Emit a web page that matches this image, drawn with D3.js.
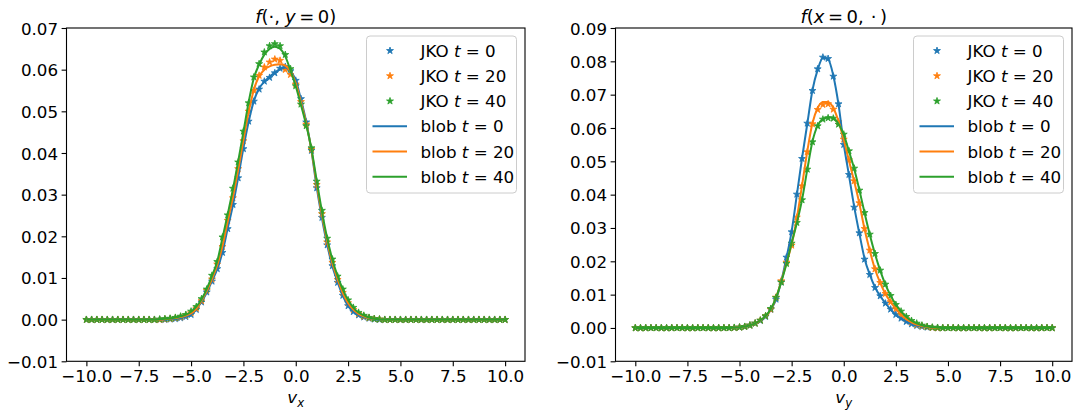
<!DOCTYPE html>
<html>
<head>
<meta charset="utf-8">
<script src="https://cdn.jsdelivr.net/npm/d3@7"></script>
<style>
  body { margin: 0; background: #fff; }
  svg { display: block; }
  text { font-family: "DejaVu Sans", sans-serif; fill: #000; }
</style>
</head>
<body>
<svg id="fig" width="1079" height="414"></svg>
<script>
// Velocity grid shared by every profile (-10 .. 10, step 0.25)
const vGrid = d3.range(-10, 10.0001, 0.25);

// ---- Slice f(., y = 0) ----
const jkoX0 = [0,0,0,0,0,0,0,0,0,0,0,0,0,0,0,0,
  0.0001,0.0002,0.0004,0.0007,0.0012,0.0024,0.0042,0.0066,0.0092,0.0122,0.0161,0.0218,0.0276,0.0340,
  0.0410,0.0476,0.0524,0.0553,0.0572,0.0581,0.0592,0.0603,0.0607,0.0597,0.0574,0.0530,0.0474,0.0406,
  0.0316,0.0245,0.0179,0.0129,0.0089,0.0058,0.0033,0.0019,0.0011,0.0006,0.0003,0.0001,
  0,0,0,0,0,0,0,0,0,0,0,0,0,0,0,0,0,0,0,0,0,0,0,0,0];
const jkoX20 = [0,0,0,0,0,0,0,0,0,0,0,0,0,0,0,
  0.0001,0.0002,0.0004,0.0006,0.0010,0.0016,0.0027,0.0045,0.0070,0.0097,0.0133,0.0175,0.0238,0.0292,
  0.0362,0.0429,0.0500,0.0550,0.0586,0.0606,0.0618,0.0625,0.0622,0.0600,0.0588,0.0565,0.0523,0.0469,
  0.0409,0.0324,0.0254,0.0186,0.0137,0.0096,0.0065,0.0040,0.0024,0.0014,0.0008,0.0004,0.0002,0.0001,
  0,0,0,0,0,0,0,0,0,0,0,0,0,0,0,0,0,0,0,0,0,0,0,0];
const jkoX40 = [0,0,0,0,0,0,0,0,0,0,0,0,0,0,
  0.0001,0.0002,0.0003,0.0005,0.0008,0.0012,0.0020,0.0031,0.0050,0.0073,0.0106,0.0139,0.0198,0.0251,
  0.0315,0.0378,0.0452,0.0520,0.0582,0.0614,0.0642,0.0657,0.0662,0.0657,0.0636,0.0602,0.0561,0.0517,
  0.0465,0.0412,0.0332,0.0262,0.0195,0.0145,0.0104,0.0073,0.0047,0.0029,0.0017,0.0010,0.0005,0.0002,
  0.0001,
  0,0,0,0,0,0,0,0,0,0,0,0,0,0,0,0,0,0,0,0,0,0,0,0];
const blobX0 = [0,0,0,0,0,0,0,0,0,0,0,0,0,0,0,0,
  0.0001,0.0002,0.0004,0.0007,0.0012,0.0025,0.0043,0.0065,0.0093,0.0121,0.0162,0.0219,0.0275,0.0341,
  0.0412,0.0475,0.0525,0.0555,0.0571,0.0583,0.0593,0.0601,0.0605,0.0596,0.0575,0.0528,0.0475,0.0405,
  0.0318,0.0244,0.0180,0.0128,0.0090,0.0057,0.0033,0.0019,0.0011,0.0006,0.0003,0.0001,
  0,0,0,0,0,0,0,0,0,0,0,0,0,0,0,0,0,0,0,0,0,0,0,0,0];
const blobX20 = [0,0,0,0,0,0,0,0,0,0,0,0,0,0,0,
  0.0001,0.0002,0.0004,0.0006,0.0010,0.0015,0.0026,0.0046,0.0069,0.0098,0.0131,0.0177,0.0236,0.0294,
  0.0360,0.0431,0.0498,0.0552,0.0584,0.0600,0.0608,0.0612,0.0613,0.0610,0.0596,0.0567,0.0521,0.0471,
  0.0407,0.0326,0.0252,0.0188,0.0136,0.0097,0.0064,0.0040,0.0024,0.0014,0.0008,0.0004,0.0002,0.0001,
  0,0,0,0,0,0,0,0,0,0,0,0,0,0,0,0,0,0,0,0,0,0,0,0];
const blobX40 = [0,0,0,0,0,0,0,0,0,0,0,0,0,0,
  0.0001,0.0002,0.0003,0.0005,0.0008,0.0012,0.0019,0.0031,0.0049,0.0074,0.0105,0.0140,0.0196,0.0253,
  0.0313,0.0380,0.0450,0.0522,0.0580,0.0612,0.0636,0.0650,0.0655,0.0650,0.0632,0.0598,0.0560,0.0515,
  0.0467,0.0410,0.0334,0.0260,0.0196,0.0144,0.0105,0.0072,0.0047,0.0029,0.0017,0.0010,0.0005,0.0002,
  0.0001,
  0,0,0,0,0,0,0,0,0,0,0,0,0,0,0,0,0,0,0,0,0,0,0,0];

// ---- Slice f(x = 0, .) ----
const jkoY0 = [0,0,0,0,0,0,0,0,0,0,0,0,0,0,0,0,0,0,0,
  0.0001,0.0002,0.0004,0.0008,0.0014,0.0022,0.0034,0.0055,0.0086,0.0138,0.0212,0.0288,0.0401,0.0508,
  0.0614,0.0712,0.0777,0.0812,0.0808,0.0755,0.0672,0.0550,0.0460,0.0362,0.0285,0.0206,0.0160,0.0121,
  0.0096,0.0074,0.0056,0.0040,0.0029,0.0019,0.0012,0.0007,0.0004,0.0002,0.0001,
  0,0,0,0,0,0,0,0,0,0,0,0,0,0,0,0,0,0,0,0,0,0,0];
const jkoY20 = [0,0,0,0,0,0,0,0,0,0,0,0,0,0,0,0,0,0,0,
  0.0001,0.0002,0.0004,0.0008,0.0014,0.0023,0.0036,0.0056,0.0092,0.0141,0.0197,0.0248,0.0332,0.0426,
  0.0528,0.0612,0.0655,0.0670,0.0672,0.0656,0.0618,0.0566,0.0504,0.0441,0.0375,0.0298,0.0233,0.0177,
  0.0136,0.0103,0.0078,0.0057,0.0040,0.0027,0.0017,0.0010,0.0006,0.0003,0.0001,
  0,0,0,0,0,0,0,0,0,0,0,0,0,0,0,0,0,0,0,0,0,0,0];
const jkoY40 = [0,0,0,0,0,0,0,0,0,0,0,0,0,0,0,0,0,0,0,
  0.0001,0.0002,0.0004,0.0008,0.0014,0.0023,0.0036,0.0058,0.0091,0.0137,0.0193,0.0254,0.0316,0.0384,
  0.0476,0.0558,0.0606,0.0626,0.0630,0.0629,0.0611,0.0581,0.0531,0.0479,0.0413,0.0346,0.0281,0.0223,
  0.0173,0.0131,0.0097,0.0070,0.0050,0.0034,0.0022,0.0014,0.0008,0.0004,0.0002,0.0001,
  0,0,0,0,0,0,0,0,0,0,0,0,0,0,0,0,0,0,0,0,0,0];
const blobY0 = [0,0,0,0,0,0,0,0,0,0,0,0,0,0,0,0,0,0,0,
  0.0001,0.0002,0.0004,0.0008,0.0014,0.0022,0.0034,0.0055,0.0085,0.0140,0.0210,0.0290,0.0399,0.0510,
  0.0612,0.0714,0.0775,0.0810,0.0806,0.0757,0.0670,0.0552,0.0458,0.0364,0.0283,0.0208,0.0160,0.0122,
  0.0095,0.0075,0.0055,0.0040,0.0029,0.0019,0.0012,0.0007,0.0004,0.0002,0.0001,
  0,0,0,0,0,0,0,0,0,0,0,0,0,0,0,0,0,0,0,0,0,0,0];
const blobY20 = [0,0,0,0,0,0,0,0,0,0,0,0,0,0,0,0,0,0,0,
  0.0001,0.0002,0.0004,0.0008,0.0014,0.0023,0.0035,0.0055,0.0090,0.0140,0.0195,0.0250,0.0330,0.0428,
  0.0530,0.0615,0.0660,0.0678,0.0678,0.0660,0.0620,0.0565,0.0502,0.0440,0.0373,0.0296,0.0232,0.0176,
  0.0135,0.0102,0.0078,0.0057,0.0040,0.0027,0.0017,0.0010,0.0006,0.0003,0.0001,
  0,0,0,0,0,0,0,0,0,0,0,0,0,0,0,0,0,0,0,0,0,0,0];
const blobY40 = [0,0,0,0,0,0,0,0,0,0,0,0,0,0,0,0,0,0,0,
  0.0001,0.0002,0.0004,0.0008,0.0014,0.0023,0.0036,0.0057,0.0090,0.0138,0.0192,0.0255,0.0315,0.0385,
  0.0475,0.0560,0.0608,0.0627,0.0632,0.0630,0.0612,0.0580,0.0530,0.0478,0.0414,0.0345,0.0280,0.0222,
  0.0172,0.0130,0.0097,0.0070,0.0050,0.0034,0.0022,0.0014,0.0008,0.0004,0.0002,0.0001,
  0,0,0,0,0,0,0,0,0,0,0,0,0,0,0,0,0,0,0,0,0,0];

// Axis ticks
const xTicks = [-10, -7.5, -5, -2.5, 0, 2.5, 5, 7.5, 10];
const xTickLabels = ["\u221210.0", "\u22127.5", "\u22125.0", "\u22122.5", "0.0", "2.5", "5.0", "7.5", "10.0"];
const yTicksX = [-0.01, 0, 0.01, 0.02, 0.03, 0.04, 0.05, 0.06, 0.07];
const yTickLabelsX = ["\u22120.01", "0.00", "0.01", "0.02", "0.03", "0.04", "0.05", "0.06", "0.07"];
const yTicksY = [-0.01, 0, 0.01, 0.02, 0.03, 0.04, 0.05, 0.06, 0.07, 0.08, 0.09];
const yTickLabelsY = ["\u22120.01", "0.00", "0.01", "0.02", "0.03", "0.04", "0.05", "0.06", "0.07", "0.08", "0.09"];

// Legend entries and colours
const times = ["0", "20", "40"];
const colors = ["#1f77b4", "#ff7f0e", "#2ca02c"];

const FS = 16.7;
const TFS = 18;
const svg = d3.select("#fig");

const panels = [
  {
    left: 66.5, right: 525, xDomain: [-10.95, 10.95], yDomain: [-0.01, 0.07],
    yTicks: yTicksX, yTickLabels: yTickLabelsX,
    jko: [jkoX0, jkoX20, jkoX40], blob: [blobX0, blobX20, blobX40],
    title: [["f", true, 0], ["(", false, 0], ["\u00b7", false, 0], [",", false, 0],
            ["y", true, 5], ["=", false, 3.5], ["0", false, 3.5], [")", false, 0]],
    sub: "x"
  },
  {
    left: 615.5, right: 1072, xDomain: [-10.95, 10.95], yDomain: [-0.01, 0.09],
    yTicks: yTicksY, yTickLabels: yTickLabelsY,
    jko: [jkoY0, jkoY20, jkoY40], blob: [blobY0, blobY20, blobY40],
    title: [["f", true, 0], ["(", false, 0], ["x", true, 0], ["=", false, 3.5], ["0", false, 3.5],
            [",", false, 0], ["\u00b7", false, 7], [")", false, 3.5]],
    sub: "y"
  }
];

const TOP = 28, BOTTOM = 361.3;

panels.forEach(p => {
  const g = svg.append("g");
  const x = d3.scaleLinear().domain(p.xDomain).range([p.left, p.right]);
  const y = d3.scaleLinear().domain(p.yDomain).range([BOTTOM, TOP]);

  // JKO samples as star markers
  const star = d3.symbol().type(d3.symbolStar).size(15)();
  p.jko.forEach((vals, k) => {
    g.append("g").selectAll("path")
      .data(vGrid.map((v, i) => [v, vals[i]]))
      .join("path")
      .attr("d", star)
      .attr("transform", d => `translate(${x(d[0])},${y(d[1])})`)
      .attr("fill", colors[k])
      .attr("stroke", colors[k])
      .attr("stroke-width", 0.8);
  });

  // Blob solutions as solid lines
  const line = d3.line().x(d => x(d[0])).y(d => y(d[1])).curve(d3.curveMonotoneX);
  p.blob.forEach((vals, k) => {
    g.append("path")
      .datum(vGrid.map((v, i) => [v, vals[i]]))
      .attr("d", line)
      .attr("fill", "none")
      .attr("stroke", colors[k])
      .attr("stroke-width", 2);
  });

  // Axes
  const xAxis = d3.axisBottom(x).tickValues(xTicks).tickSize(4.9).tickPadding(3.5)
    .tickFormat((d, i) => xTickLabels[i]);
  const gx = g.append("g").attr("transform", `translate(0,${BOTTOM})`).call(xAxis);
  const yAxis = d3.axisLeft(y).tickValues(p.yTicks).tickSize(4.9).tickPadding(3.5)
    .tickFormat((d, i) => p.yTickLabels[i]);
  const gy = g.append("g").attr("transform", `translate(${p.left},0)`).call(yAxis);
  [gx, gy].forEach(a => {
    a.select(".domain").remove();
    a.selectAll(".tick line").attr("stroke", "#000").attr("stroke-width", 1.1);
    a.selectAll(".tick text").attr("font-size", FS).attr("font-family", "DejaVu Sans").attr("fill", "#000");
  });
  gx.selectAll(".tick text").attr("dy", "0.76em");
  gy.selectAll(".tick text").attr("dy", "0.36em");

  // Frame
  g.append("rect")
    .attr("x", p.left).attr("y", TOP)
    .attr("width", p.right - p.left).attr("height", BOTTOM - TOP)
    .attr("fill", "none").attr("stroke", "#000").attr("stroke-width", 1.1);

  // Title (math-style spacing around operators and after the comma)
  const cx = (p.left + p.right) / 2;
  const t = g.append("text").attr("x", cx).attr("y", 22.5).attr("text-anchor", "middle").attr("font-size", TFS);
  p.title.forEach(([s, it, dx]) => t.append("tspan").attr("dx", dx).attr("font-style", it ? "italic" : "normal").text(s));

  // Axis label v_x / v_y
  const xl = g.append("text").attr("x", cx).attr("y", 403).attr("text-anchor", "middle").attr("font-size", FS);
  xl.append("tspan").attr("font-style", "italic").text("v");
  xl.append("tspan").attr("font-style", "italic").attr("font-size", FS * 0.7).attr("dy", 4).text(p.sub);

  // Legend
  const lw = 150, lh = 157;
  const lx = p.right - 8.5 - lw, ly = 36;
  const lg = g.append("g");
  lg.append("rect").attr("x", lx).attr("y", ly).attr("width", lw).attr("height", lh)
    .attr("rx", 3.5).attr("fill", "#fff").attr("fill-opacity", 0.8)
    .attr("stroke", "#cccccc").attr("stroke-width", 1);
  const entries = [];
  times.forEach((tt, k) => entries.push({ kind: "jko", k, label: "JKO ", tt }));
  times.forEach((tt, k) => entries.push({ kind: "blob", k, label: "blob ", tt }));
  entries.forEach((e, i) => {
    const cy = 50.7 + 25.2 * i;
    if (e.kind === "jko") {
      lg.append("path").attr("d", star)
        .attr("transform", `translate(${lx + 23.5},${cy})`)
        .attr("fill", colors[e.k]).attr("stroke", colors[e.k]).attr("stroke-width", 0.8);
    } else {
      lg.append("line").attr("x1", lx + 6).attr("x2", lx + 40.5).attr("y1", cy).attr("y2", cy)
        .attr("stroke", colors[e.k]).attr("stroke-width", 2);
    }
    const tx = lg.append("text").attr("x", lx + 54).attr("y", cy + 6).attr("font-size", FS);
    tx.append("tspan").text(e.label);
    tx.append("tspan").attr("font-style", "italic").text("t");
    tx.append("tspan").text(" = " + e.tt);
  });
});
</script>
</body>
</html>
